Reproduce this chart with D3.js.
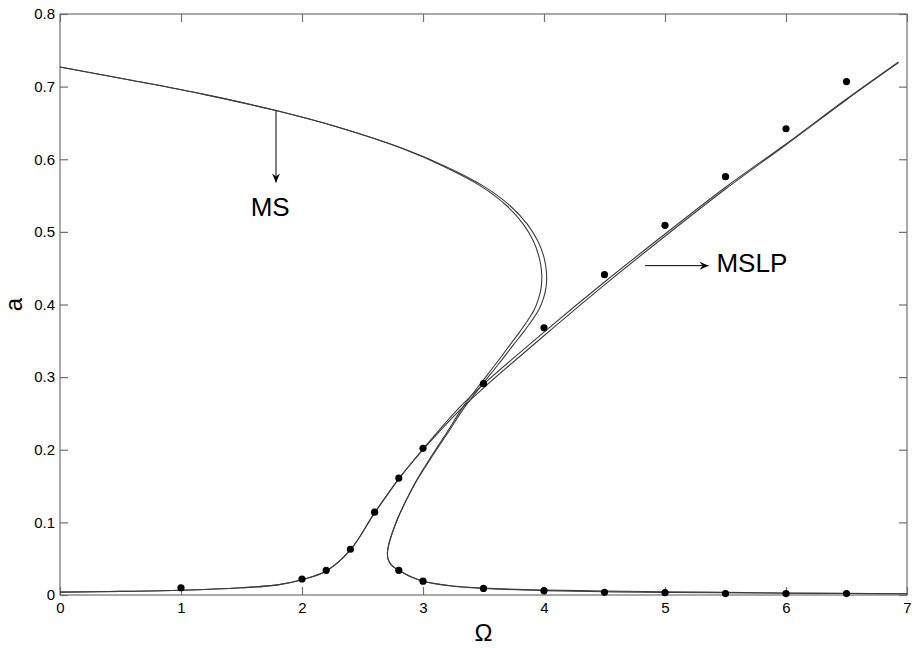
<!DOCTYPE html>
<html>
<head>
<meta charset="utf-8">
<script src="https://cdn.jsdelivr.net/npm/d3@7/dist/d3.min.js"></script>
<style>
  html, body { margin: 0; padding: 0; background: #fff; }
  svg { display: block; font-family: "Liberation Sans", Arial, sans-serif; }
</style>
</head>
<body>
<svg id="chart" width="912" height="648"></svg>
<script>
// Tick values
const xTicks = [0, 1, 2, 3, 4, 5, 6, 7];
const yTicks = [0, 0.1, 0.2, 0.3, 0.4, 0.5, 0.6, 0.7, 0.8];

// MS response curve (two nearly coincident traces), traced along the path
const msOmega  = [0, 0.6, 1.2, 1.785, 2.3, 2.83, 3.2, 3.5, 3.72, 3.86, 3.95, 4.0, 4.02, 4.018, 3.995, 3.955, 3.90, 3.83, 3.75, 3.62, 3.5, 3.35, 3.2, 3.06, 2.95, 2.86, 2.79, 2.745, 2.718, 2.706, 2.712, 2.74, 2.78, 2.82, 2.9, 3.0, 3.25, 3.5, 4.0, 4.5, 5.0, 5.5, 6.0, 6.5, 7.0];
const msA      = [0.727, 0.7085, 0.689, 0.667, 0.644, 0.615, 0.589, 0.563, 0.536, 0.511, 0.487, 0.465, 0.445, 0.425, 0.408, 0.392, 0.378, 0.362, 0.345, 0.317, 0.292, 0.260, 0.222, 0.187, 0.158, 0.130, 0.105, 0.085, 0.070, 0.058, 0.049, 0.041, 0.036, 0.032, 0.025, 0.019, 0.012, 0.009, 0.006, 0.0045, 0.0035, 0.003, 0.0025, 0.002, 0.0018];
const msOmega2 = [0, 0.6, 1.2, 1.785, 2.3, 2.824, 3.185, 3.478, 3.692, 3.827, 3.913, 3.96, 3.98, 3.978, 3.955, 3.917, 3.865, 3.798, 3.722, 3.596, 3.48, 3.335, 3.19, 3.054, 2.947, 2.86, 2.79, 2.745, 2.718, 2.706, 2.712, 2.74, 2.78, 2.82, 2.9, 3.0, 3.25, 3.5, 4.0, 4.5, 5.0, 5.5, 6.0, 6.5, 7.0];
const msA2     = [0.727, 0.7085, 0.689, 0.667, 0.644, 0.615, 0.589, 0.563, 0.536, 0.511, 0.487, 0.465, 0.445, 0.425, 0.408, 0.392, 0.378, 0.362, 0.345, 0.317, 0.292, 0.260, 0.222, 0.187, 0.158, 0.130, 0.105, 0.085, 0.070, 0.058, 0.049, 0.041, 0.036, 0.032, 0.025, 0.019, 0.0125, 0.0095, 0.0068, 0.0056, 0.0045, 0.0036, 0.0028, 0.0022, 0.0018];

// MSLP response curve (two nearly coincident traces)
const mslpOmega = [0, 0.5, 1.0, 1.5, 1.8, 2.0, 2.2, 2.4, 2.6, 2.8, 3.0, 3.3, 3.5, 4.0, 4.5, 5.0, 5.5, 6.0, 6.5, 6.93];
const mslpA     = [0.004, 0.005, 0.0065, 0.010, 0.014, 0.021, 0.033, 0.062, 0.113, 0.160, 0.201, 0.258, 0.290, 0.362, 0.431, 0.497, 0.5615, 0.621, 0.683, 0.734];
const mslpA2    = [0.004, 0.005, 0.0065, 0.010, 0.014, 0.021, 0.033, 0.062, 0.113, 0.160, 0.200, 0.254, 0.285, 0.357, 0.427, 0.494, 0.559, 0.620, 0.682, 0.733];

// Simulated points
const upperDotOmega = [1, 2, 2.2, 2.4, 2.6, 2.8, 3, 3.5, 4, 4.5, 5, 5.5, 6, 6.5];
const upperDotA     = [0.010, 0.022, 0.034, 0.063, 0.114, 0.161, 0.202, 0.291, 0.368, 0.441, 0.509, 0.576, 0.642, 0.707];
const lowerDotOmega = [2.8, 3, 3.5, 4, 4.5, 5, 5.5, 6, 6.5];
const lowerDotA     = [0.034, 0.019, 0.009, 0.006, 0.0037, 0.0032, 0.002, 0.002, 0.002];

const svg = d3.select("#chart");
const mLeft = 60, mRight = 907, mTop = 14, mBottom = 595;

const x = d3.scaleLinear().domain([0, 7]).range([mLeft, mRight]);
const y = d3.scaleLinear().domain([0, 0.8]).range([mBottom, mTop]);

const axisColor = "#707070";
const tickLen = 8;

// Frame
svg.append("rect")
  .attr("x", mLeft).attr("y", mTop)
  .attr("width", mRight - mLeft).attr("height", mBottom - mTop)
  .attr("fill", "none").attr("stroke", axisColor).attr("stroke-width", 1.2);

// Axes with inward ticks on all four sides
function styleAxis(g) {
  g.select(".domain").remove();
  g.selectAll(".tick line").attr("stroke", axisColor).attr("stroke-width", 1.2);
  g.selectAll(".tick text").attr("fill", "#000")
    .style("font-family", '"Liberation Sans", Arial, sans-serif')
    .style("font-size", "15px");
}
svg.append("g").attr("transform", `translate(0,${mBottom})`)
  .call(d3.axisBottom(x).tickValues(xTicks).tickFormat(d3.format("d"))
    .tickSizeInner(-tickLen).tickSizeOuter(0).tickPadding(7))
  .call(styleAxis);
svg.append("g").attr("transform", `translate(0,${mTop})`)
  .call(d3.axisTop(x).tickValues(xTicks).tickFormat("")
    .tickSizeInner(-tickLen).tickSizeOuter(0))
  .call(styleAxis);
svg.append("g").attr("transform", `translate(${mLeft},0)`)
  .call(d3.axisLeft(y).tickValues(yTicks).tickFormat(d => d === 0 ? "0" : d3.format(".1f")(d))
    .tickSizeInner(-tickLen).tickSizeOuter(0).tickPadding(5))
  .call(styleAxis);
svg.append("g").attr("transform", `translate(${mRight},0)`)
  .call(d3.axisRight(y).tickValues(yTicks).tickFormat("")
    .tickSizeInner(-tickLen).tickSizeOuter(0))
  .call(styleAxis);

// Curves
const line = d3.line()
  .x(d => x(d[0])).y(d => y(d[1]))
  .curve(d3.curveCatmullRom.alpha(0.5));
const zip = (a, b) => a.map((v, i) => [v, b[i]]);

const curves = [
  zip(msOmega, msA),
  zip(msOmega2, msA2),
  zip(mslpOmega, mslpA),
  zip(mslpOmega, mslpA2)
];
svg.append("g").selectAll("path").data(curves).join("path")
  .attr("d", line)
  .attr("fill", "none")
  .attr("stroke", "#3c3c3c")
  .attr("stroke-width", 1.1);

// Dots
const dots = zip(upperDotOmega, upperDotA).concat(zip(lowerDotOmega, lowerDotA));
svg.append("g").selectAll("circle").data(dots).join("circle")
  .attr("cx", d => x(d[0])).attr("cy", d => y(d[1]))
  .attr("r", 3.6).attr("fill", "#000");

// Arrow annotations
function arrow(x1, y1, x2, y2) {
  svg.append("line")
    .attr("x1", x1).attr("y1", y1).attr("x2", x2).attr("y2", y2)
    .attr("stroke", "#000").attr("stroke-width", 1);
  const ang = Math.atan2(y2 - y1, x2 - x1);
  const L = 9, W = 4, N = 6;
  const pts = [
    [0, 0], [-L, -W], [-N, 0], [-L, W]
  ].map(([px, py]) => [
    x2 + px * Math.cos(ang) - py * Math.sin(ang),
    y2 + px * Math.sin(ang) + py * Math.cos(ang)
  ]);
  svg.append("path").attr("d", "M" + pts.join("L") + "Z").attr("fill", "#000");
}

arrow(x(1.785), y(0.667), x(1.785), y(0.568));
svg.append("text")
  .attr("x", x(1.737)).attr("y", y(0.522))
  .attr("text-anchor", "middle")
  .style("font-size", "26px").text("MS");

arrow(x(4.835), y(0.4535), x(5.36), y(0.4535));
svg.append("text")
  .attr("x", x(5.425)).attr("y", y(0.4445))
  .style("font-size", "26px").text("MSLP");

// Axis titles
svg.append("text")
  .attr("x", x(3.5)).attr("y", 641)
  .attr("text-anchor", "middle")
  .style("font-size", "24px").text("Ω");
svg.append("text")
  .attr("transform", `translate(22,${(mTop + mBottom) / 2}) rotate(-90)`)
  .attr("text-anchor", "middle")
  .style("font-size", "24px").text("a");
</script>
</body>
</html>
